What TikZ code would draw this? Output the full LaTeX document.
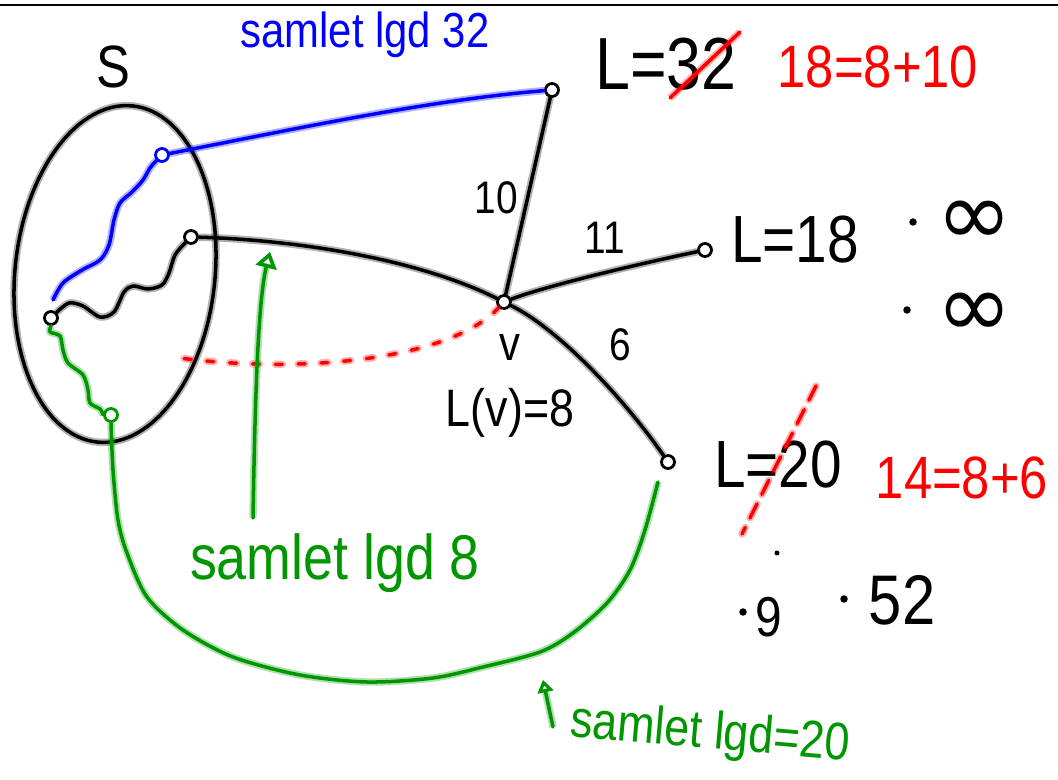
\documentclass[tikz,border=0pt]{standalone}
\usepackage{fontspec}
\setmainfont{Liberation Sans}[FakeStretch=0.85]
\newfontfamily\symfont{DejaVu Sans}
\usetikzlibrary{arrows.meta}
\definecolor{InkBlue}{RGB}{0,0,255}
\definecolor{InkGreen}{RGB}{0,150,0}
\definecolor{InkRed}{RGB}{255,0,0}
\newcommand\handsize[1]{\fontsize{#1}{#1}\selectfont}

\tikzset{
  ink/.style={draw=#1, line width=2pt, line cap=round, line join=round,
    preaction={draw=#1, line width=4.2pt, opacity=0.3}},
  ink/.default=black,
  redstroke/.style={draw=InkRed, line width=2pt, line cap=round, dash pattern=#1,
    preaction={draw=InkRed, line width=4.2pt, line cap=round, opacity=0.3, dash pattern=#1}},
  vtx/.style={circle, draw, fill=white, line width=1.6pt, inner sep=0pt, minimum size=0.26cm},
  spot/.style={circle, fill, inner sep=0pt, minimum size=0.15cm},
  lbl/.style={inner sep=0pt}
}

\begin{document}
\begin{tikzpicture}[x=0.02cm, y=-0.02cm, >=Latex]
  \useasboundingbox (0,0) rectangle (1058,780);
  \draw[line width=1.5pt] (0,5) -- (1058,5);

  % the set S
  \draw[ink, rotate around={-6:(115,274)}] (115,274) ellipse [x radius=100, y radius=169];
  \node[lbl, font=\handsize{34}] (lblS) at (113,67) {S};

  % vertices
  \node[vtx] (s0) at (51,318) {};
  \node[vtx] (a) at (191,237) {};
  \node[vtx, draw=InkBlue] (b1) at (162,155) {};
  \node[vtx, draw=InkGreen] (g) at (111,415) {};
  \node[vtx] (t) at (552,90) {};
  \node[vtx] (v) at (504,302) {};
  \node[vtx] (r) at (705,250) {};
  \node[vtx] (w) at (668,462) {};
  \coordinate (redend) at (172,357);
  \coordinate (gend) at (658,482);
  \coordinate (ar8s) at (253,518);
  \coordinate (ar8e) at (270,252);
  \coordinate (ar20s) at (553,727);
  \coordinate (ar20e) at (543,680);

  % blue path, samlet lgd 32
  \draw[ink=InkBlue] plot[smooth] coordinates {(b1.south west) (150,168) (143,180) (132,192) (120,203) (114,220) (109,245) (100,260) (82,270) (63,283) (53,300)};
  \draw[ink=InkBlue] (b1) .. controls (300,128) and (430,100) .. (t);
  \node[lbl, font=\handsize{28}, text=InkBlue] (lblblue) at (365,35) {samlet lgd 32};

  % black path through v
  \draw[ink] plot[smooth] coordinates {(s0.north east) (69,303) (83,306) (100,317) (114,312) (124,292) (133,286) (148,289) (162,285) (169,273) (175,255) (a.south west)};
  \draw[ink] (a) .. controls (300,240) and (420,260) .. (v);
  \draw[ink] (v) .. controls (560,330) and (625,400) .. (w);
  \draw[ink] (v) -- (t);
  \draw[ink] (v) .. controls (540,288) and (620,268) .. (r);
  \draw[redstroke={on 4pt off 9pt}] (v) .. controls (450,360) and (300,375) .. (redend);

  % green path, samlet lgd 8 / 20
  \draw[ink=InkGreen] plot[smooth] coordinates {(s0.south) (50,332) (60,336) (63,350) (68,363) (83,375) (88,390) (90,403) (100,409) (g.west)};
  \draw[ink=InkGreen] plot[smooth] coordinates {(g.south) (113,470) (118,520) (127,553) (147,597) (183,630) (233,657) (300,675) (367,682) (433,678) (483,667) (540,652) (573,633) (607,603) (630,570) (645,530) (gend)};
  \draw[ink=InkGreen, -{Triangle[open, length=9pt, width=12pt]}] (ar8s) .. controls (255,400) and (258,300) .. (ar8e);
  \node[lbl, font=\handsize{36}, text=InkGreen] (lbl8) at (335,563) {samlet lgd 8};
  \draw[ink=InkGreen, -{Triangle[open, length=7pt, width=9pt]}] (ar20s) -- (ar20e);
  \node[lbl, font=\handsize{30}, text=InkGreen, rotate=-5] (lbl20) at (710,735) {samlet lgd=20};

  % edge weights and labels
  \node[lbl, font=\handsize{26}] (w10) at (496,198) {10};
  \node[lbl, font=\handsize{26}] (w11) at (605,238) {11};
  \node[lbl, font=\handsize{26}] (w6) at (620,345) {6};
  \node[lbl, font=\handsize{28}] (lblv) at (510,348) {v};
  \node[lbl, font=\handsize{30}] (Lv) at (510,413) {L(v)=8};

  \node[lbl, font=\handsize{42}] (Lt) at (666,64) {L=32};
  \draw[ink=InkRed] (670,98) -- (740,32);
  \node[lbl, font=\handsize{34}, text=InkRed] (sum18) at (878,67) {18=8+10};

  \node[lbl, font=\handsize{38}] (Lr) at (795,240) {L=18};
  \node[spot] (dot1) at (913,222) {};
  \node[lbl, font=\symfont\handsize{52}] (inf1) at (975,223) {∞};
  \node[spot] (dot2) at (907,310) {};
  \node[lbl, font=\symfont\handsize{52}] (inf2) at (975,315) {∞};

  \node[lbl, font=\handsize{38}] (Lw) at (778,465) {L=20};
  \draw[redstroke={on 9pt off 6pt}] (816,386) -- (742,534);
  \node[lbl, font=\handsize{34}, text=InkRed] (sum14) at (962,478) {14=8+6};

  \node[spot, minimum size=0.1cm] (dotq) at (777,553) {};
  \node[spot] (dot9) at (743,612) {};
  \node[lbl, font=\handsize{32}] (n9) at (769,617) {9};
  \node[spot] (dot52) at (844,599) {};
  \node[lbl, font=\handsize{40}] (n52) at (902,600) {52};
\end{tikzpicture}
\end{document}
